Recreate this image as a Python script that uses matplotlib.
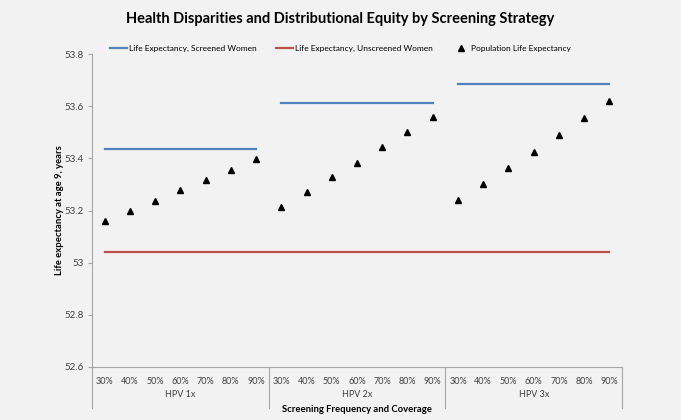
import numpy as np
import matplotlib.pyplot as plt

plt.rcParams['font.family'] = ['Lato', 'DejaVu Sans']

# Data
groups = ['HPV 1x', 'HPV 2x', 'HPV 3x']
coverage = ['30%', '40%', '50%', '60%', '70%', '80%', '90%']
screened = [53.437, 53.614, 53.685]
unscreened = 53.042
population = [
    [53.158, 53.199, 53.238, 53.277, 53.317, 53.357, 53.397],
    [53.214, 53.272, 53.327, 53.384, 53.442, 53.500, 53.557],
    [53.241, 53.300, 53.363, 53.425, 53.490, 53.555, 53.621],
]

blue = '#4f81bd'
red = '#c0504d'
grey = '#a6a6a6'

fig = plt.figure(figsize=(6.81, 4.2), dpi=100, facecolor='#f2f2f2')
ax = fig.add_axes([0.1351, 0.1262, 0.7783, 0.7452])
ax.set_facecolor('#f2f2f2')

n = len(coverage)
x_all = np.arange(n * len(groups))

# screened women: one flat segment per group
for g, val in enumerate(screened):
    xs = np.arange(g * n, (g + 1) * n)
    ax.plot(xs, [val] * n, color=blue, lw=1.6,
            label='Life Expectancy, Screened Women' if g == 0 else None)

# unscreened women across all categories
ax.plot(x_all, [unscreened] * len(x_all), color=red, lw=1.6,
        label='Life Expectancy, Unscreened Women')

# population life expectancy
ax.plot(x_all, np.concatenate(population), ls='none', marker='^',
        color='black', ms=5, label='Population Life Expectancy')

ax.set_xlim(-0.5, len(x_all) - 0.5)
ax.set_ylim(52.6, 53.8)
yt = np.arange(52.6, 53.81, 0.2)
ax.set_yticks(yt)
ax.set_yticklabels(['%g' % round(v, 1) for v in yt], fontsize=7, color='#404040')
ax.tick_params(axis='y', length=3, color=grey, width=0.8, pad=3)

ax.set_xticks(x_all)
ax.set_xticklabels(coverage * len(groups), fontsize=6.5, color='#404040')
ax.tick_params(axis='x', length=0, pad=7)

ax.spines[['top', 'right']].set_visible(False)
ax.spines['left'].set_color(grey)
ax.spines['bottom'].set_color(grey)

# group separators and group labels below the axis
for b in np.arange(len(groups) + 1) * n - 0.5:
    ax.plot([b, b], [0, -0.13], transform=ax.get_xaxis_transform(),
            color=grey, lw=0.8, clip_on=False)
for g, name in enumerate(groups):
    ax.text(g * n + (n - 1) / 2, -0.088, name, transform=ax.get_xaxis_transform(),
            ha='center', va='center', fontsize=6.5, color='#404040')

ax.set_xlabel('Screening Frequency and Coverage', fontsize=6.8, fontweight='bold', labelpad=14)
ax.set_ylabel('Life expectancy at age 9, years', fontsize=6.8, fontweight='bold', labelpad=0)

fig.suptitle('Health Disparities and Distributional Equity by Screening Strategy',
             x=0.5, y=0.972, fontsize=10.5, fontweight='bold', color='black')

fig.legend(loc='center', bbox_to_anchor=(0.5, 0.884), ncol=3, frameon=False,
           fontsize=6, handlelength=2.0, columnspacing=2.4, handletextpad=0.2)

fig.savefig('out.png', dpi=100, facecolor=fig.get_facecolor())
